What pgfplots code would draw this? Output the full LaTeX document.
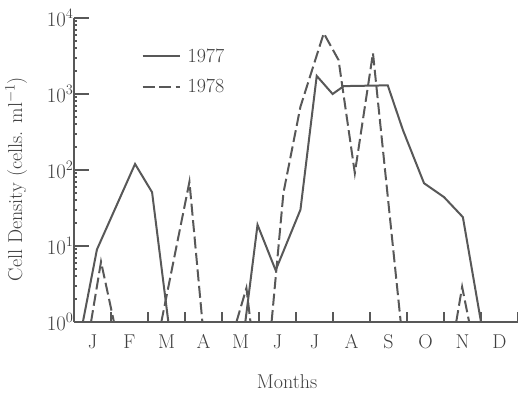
\documentclass[border=0pt]{standalone}
\usepackage{pgfplots}
\pgfplotsset{compat=1.18}
\definecolor{ink}{RGB}{88,88,88}
\begin{document}
\begin{tikzpicture}
\useasboundingbox (-74pt,-72pt) rectangle (444pt,322pt);
\begin{axis}[
 at={(0,0)}, anchor=south west,
 scale only axis, width=444pt, height=304pt,
 xmin=0, xmax=12, ymin=1, ymax=10000, ymode=log,
 clip=false,
 axis x line=bottom, axis y line=left,
 axis line style={-, ink, line width=2.2pt},
 xtick={1,...,12}, xticklabels={},
 extra x ticks={0.5,1.5,...,11.5},
 extra x tick labels={J,F,M,A,M,J,J,A,S,O,N,D},
 extra x tick style={tick style={draw=none}},
 ytick={1,10,100,1000,10000},
 extra y ticks={1,10,100,1000,10000}, extra y tick labels={},
 extra y tick style={major tick length=15pt},
 major tick length=10pt,
 minor tick num=0,
 tick align=inside,
 tick style={ink, line width=2pt},
 tick label style={font=\fontsize{20}{24}\selectfont, text=black!75},
 xticklabel style={yshift=-9pt},
 yticklabel style={xshift=3pt},
 label style={font=\fontsize{20}{24}\selectfont, text=black!75},
 xlabel={Months},
 xlabel style={at={(axis description cs:0.48,-0.197)}, anchor=center},
 ylabel={Cell Density (cells. ml$^{-1}$)},
 ylabel style={at={(axis description cs:-0.13,0.47)}, anchor=center},
 legend style={at={(axis description cs:0.145,0.824)}, anchor=west, draw=none, fill=none,
   font=\fontsize{20}{24}\selectfont, text=black!75, row sep=11pt,
   /tikz/every odd column/.append style={column sep=5pt}},
 legend cell align=left,
 legend image code/.code={\draw[#1] (0pt,0pt) -- (37pt,0pt);},
]
\addplot[ink, line width=2pt] coordinates {(0.24,1)(0.62,9)(1.65,120)(2.11,51)(2.55,1)};
\addlegendentry{1977}
\addplot[ink, line width=2pt, dash pattern=on 12pt off 4.5pt] coordinates {(0.46,1)(0.73,6.2)(1.08,1)};
\addlegendentry{1978}
\addplot[ink, line width=2pt, forget plot] coordinates {(4.63,1)(4.96,19)(5.45,4.8)(6.12,30)(6.56,1730)(6.99,1000)(7.29,1270)(8.48,1300)(8.89,335)(9.46,67)(10.0,44)(10.51,24)(11.0,1)};
\addplot[ink, line width=2pt, dash pattern=on 12pt off 4.5pt, forget plot] coordinates {(2.36,1)(3.12,70)(3.47,1)};
\addplot[ink, line width=2pt, dash pattern=on 12pt off 4.5pt, forget plot] coordinates {(4.39,1)(4.66,2.8)(4.77,1)};
\addplot[ink, line width=2pt, dash pattern=on 12pt off 4.5pt, forget plot] coordinates {(5.34,1)(5.66,50)(6.12,680)(6.75,6300)(7.15,2800)(7.59,91)(8.08,3450)(8.83,1)};
\addplot[ink, line width=2pt, dash pattern=on 12pt off 4.5pt, forget plot] coordinates {(10.33,1)(10.49,2.9)(10.68,1)};
\end{axis}
\end{tikzpicture}
\end{document}
